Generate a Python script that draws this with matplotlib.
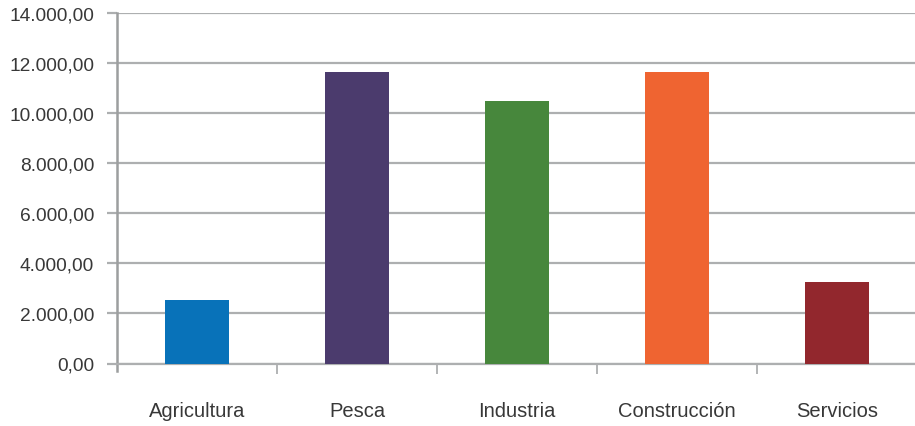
import matplotlib.pyplot as plt
import numpy as np

plt.rcParams['font.family'] = ['Liberation Sans', 'DejaVu Sans']

# Valores
sectores = ["Agricultura", "Pesca", "Industria", "Construcción", "Servicios"]
valores = [2540, 11650, 10500, 11640, 3270]
colores = ["#0872B9", "#4B3B6D", "#47873C", "#EF6431", "#92272D"]
y_ticks = [0, 2000, 4000, 6000, 8000, 10000, 12000, 14000]


def fmt_es(v):
    # 14000 -> "14.000,00"
    s = f"{v:,.2f}"
    return s.replace(",", "X").replace(".", ",").replace("X", ".")


fig = plt.figure(figsize=(9.15, 4.27), dpi=100)
ax = fig.add_axes([117 / 915, 62.5 / 427, 800 / 915, 350.5 / 427])

x = np.arange(len(sectores))
ax.bar(x, valores, width=0.4, color=colores, zorder=3)

ax.set_xlim(-0.5, len(sectores) - 0.5)
ax.set_ylim(0, 14000)

grid_col = "#adafb0"
ax.set_yticks(y_ticks)
ax.set_yticklabels([fmt_es(v) for v in y_ticks])
ax.yaxis.grid(True, color=grid_col, linewidth=1.6, zorder=0)
ax.tick_params(axis="y", length=7.5, width=1.6, color=grid_col, pad=9,
               labelsize=13.8, labelcolor="#383838")

# etiquetas en el centro, marcas en los límites de categoría
ax.set_xticks(x)
ax.set_xticklabels(sectores)
ax.set_xticks(np.arange(0.5, len(sectores) - 0.5), minor=True)
ax.tick_params(axis="x", which="major", length=0, pad=27,
               labelsize=14.5, labelcolor="#383838")
ax.tick_params(axis="x", which="minor", length=7, width=1.3, color=grid_col)

for side in ["top", "right"]:
    ax.spines[side].set_visible(False)
ax.spines["left"].set_color("#9c9e9f")
ax.spines["left"].set_linewidth(1.8)
ax.spines["left"].set_bounds(-300, 14000)
ax.spines["bottom"].set_color(grid_col)
ax.spines["bottom"].set_linewidth(1.6)

fig.savefig("out.png", dpi=100)
